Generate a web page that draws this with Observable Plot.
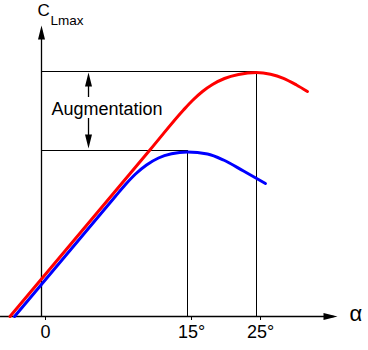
<!DOCTYPE html>
<html>
<head>
<meta charset="utf-8">
<script src="https://cdn.jsdelivr.net/npm/d3@7"></script>
<script src="https://cdn.jsdelivr.net/npm/@observablehq/plot@0.6"></script>
<style>body{margin:0;background:#fff}</style>
</head>
<body>
<div id="chart"></div>
<script>
// ---- data (angle of attack α in degrees, lift coefficient C_L) ----
const alphaTicks = [0, 15, 25];
const alphaTickLabels = ["0", "15°", "25°"];

// with high-lift device (red)
const redAlpha = [-3.24, 11.2, 14.59, 15.72, 17.17, 18.62, 20.36, 22.39, 25, 27.03, 28.91, 30.8, 32.39];
const redCL    = [0, 1.672, 2.065, 2.16, 2.25, 2.32, 2.38, 2.42, 2.44, 2.423, 2.382, 2.315, 2.25];

// basic wing (blue)
const blueAlpha = [-2.77, 7.6, 8.63, 9.66, 10.79, 12.02, 13.36, 15, 17.9, 20.22, 23.12, 26.3];
const blueCL    = [0, 1.202, 1.32, 1.425, 1.515, 1.585, 1.627, 1.645, 1.625, 1.565, 1.455, 1.33];

// maxima
const blueMaxAlpha = 15, blueMaxCL = 1.66;
const redMaxAlpha = 25, redMaxCL = 2.45;

// axis extents
const alphaMin = -4.21, alphaMax = 36.74, clTop = 2.91;

// annotation
const augmentLabel = "Augmentation";
const augmentAlpha = 4.83;
const augmentUpper = [2.19, 2.44];   // shaft start, tip
const augmentLower = [1.98, 1.68];   // shaft start, tip

// ---- build tables ----
const red = redAlpha.map((a, i) => ({a, cl: redCL[i]}));
const blue = blueAlpha.map((a, i) => ({a, cl: blueCL[i]}));
const ticks = alphaTicks.map((a, i) => ({a, label: alphaTickLabels[i]}));

// schematic (non-uniform) α axis: piecewise-linear spacing between the 0, 15° and 25° marks
const alphaScale = d3.scaleLinear().domain([0, 15, 25]).range([0, 146, 215]);

// arrow-head symbols
const upHead = {draw(c) { c.moveTo(0, 0); c.lineTo(3.5, 14); c.lineTo(-3.5, 14); c.closePath(); }};
const downHead = {draw(c) { c.moveTo(0, 0); c.lineTo(3.5, -14); c.lineTo(-3.5, -14); c.closePath(); }};
const rightHead = {draw(c) { c.moveTo(0, 0); c.lineTo(-14, -3.5); c.lineTo(-14, 3.5); c.closePath(); }};

const font = "Liberation Sans, Arial, sans-serif";

const chart = Plot.plot({
  width: 368,
  height: 350,
  margin: 0,
  style: {fontFamily: font, background: "#fff"},
  x: {type: "linear", transform: alphaScale, domain: [-41, 327], range: [0, 368], axis: null},
  y: {domain: [0, clTop], range: [316, 25], axis: null},
  marks: [
    // axes
    Plot.ruleY([0], {x1: alphaMin, x2: alphaMax - 0.5, stroke: "black", strokeWidth: 1.3}),
    Plot.ruleX([0], {y1: 0, y2: clTop - 0.05, stroke: "black", strokeWidth: 1.3}),
    Plot.dot([{a: 0, cl: clTop}], {x: "a", y: "cl", symbol: upHead, fill: "black", stroke: "none"}),
    Plot.dot([{a: alphaMax, cl: 0}], {x: "a", y: "cl", symbol: rightHead, fill: "black", stroke: "none"}),
    // tick marks + labels
    Plot.ruleX(ticks, {x: "a", y1: 0, y2: -0.04, dx: 4, stroke: "black", strokeWidth: 1}),
    Plot.text(ticks, {x: "a", y: -0.157, text: "label", dx: 4, fontSize: 18, fill: "black", fontFamily: font}),
    Plot.text(["α"], {x: alphaMax + 1.74, y: 0.03, text: d => d, textAnchor: "start", fontSize: 22, fill: "black", fontFamily: font}),
    Plot.text(["C"], {x: -0.41, y: 3.055, text: d => d, textAnchor: "start", fontSize: 17, fill: "black", fontFamily: font}),
    Plot.text(["Lmax"], {x: 0.92, y: 2.955, text: d => d, textAnchor: "start", fontSize: 13.5, fill: "black", fontFamily: font}),
    // guide lines to maxima
    Plot.ruleY([blueMaxCL], {x1: 0, x2: blueMaxAlpha, stroke: "black", strokeWidth: 1}),
    Plot.ruleY([redMaxCL], {x1: 0, x2: redMaxAlpha, stroke: "black", strokeWidth: 1}),
    Plot.ruleX([blueMaxAlpha], {y1: 0, y2: blueMaxCL, stroke: "black", strokeWidth: 1}),
    Plot.ruleX([redMaxAlpha], {y1: 0, y2: redMaxCL, stroke: "black", strokeWidth: 1}),
    // augmentation double arrow
    Plot.ruleX([augmentAlpha], {y1: augmentUpper[0], y2: augmentUpper[1] - 0.1, stroke: "black", strokeWidth: 1.3}),
    Plot.ruleX([augmentAlpha], {y1: augmentLower[0], y2: augmentLower[1] + 0.1, stroke: "black", strokeWidth: 1.3}),
    Plot.dot([{a: augmentAlpha, cl: augmentUpper[1]}], {x: "a", y: "cl", symbol: upHead, fill: "black", stroke: "none"}),
    Plot.dot([{a: augmentAlpha, cl: augmentLower[1]}], {x: "a", y: "cl", symbol: downHead, fill: "black", stroke: "none"}),
    Plot.text([augmentLabel], {x: 1.03, y: 2.07, text: d => d, textAnchor: "start", fontSize: 18, fill: "black", fontFamily: font}),
    // curves
    Plot.line(blue, {x: "a", y: "cl", stroke: "#0000ff", strokeWidth: 3, curve: "monotone-x"}),
    Plot.line(red, {x: "a", y: "cl", stroke: "#ff0000", strokeWidth: 3, curve: "monotone-x"})
  ]
});
document.getElementById("chart").appendChild(chart);
</script>
</body>
</html>
